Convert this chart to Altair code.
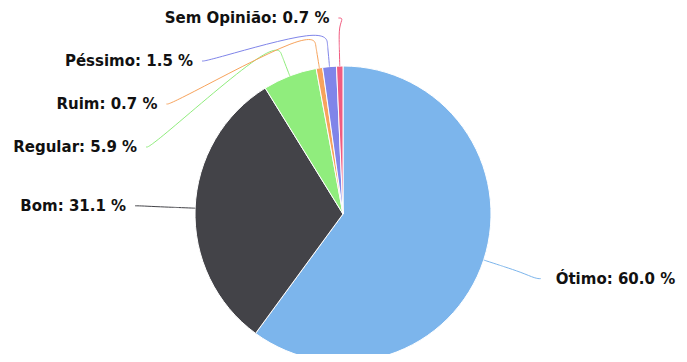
import math
import altair as alt
import pandas as pd

# ---- data ----
categories = ["Ótimo", "Bom", "Regular", "Ruim", "Péssimo", "Sem Opinião"]
percentages = [60.0, 31.1, 5.9, 0.7, 1.5, 0.7]
colors = ["#7cb5ec", "#434348", "#90ed7d", "#f7a35c", "#8085e9", "#f15c80"]

# ---- layout (view pixel space) ----
W, H = 671, 346
CX, CY = 335, 206          # pie centre
R = 148                    # pie radius
LABEL_DIST = 60            # label distance outside the pie
BREAK_DIST = 20            # connector break distance outside the pie
TOP = 10                   # top boundary for distributed labels
SPACING = 43               # minimum vertical spacing between labels

total = sum(percentages)
slices = []
cum = 0.0
for i, (c, p) in enumerate(zip(categories, percentages)):
    a0 = cum / total * 2 * math.pi
    cum += p
    a1 = cum / total * 2 * math.pi
    mid = (a0 + a1) / 2
    RL = R + LABEL_DIST
    slices.append({
        "idx": i, "category": c, "value": p,
        "label": f"{c}: {p:.1f} %",
        "mid": mid,
        "nx": CX + RL * math.sin(mid),
        "ny": CY - RL * math.cos(mid),
        "side": "left" if math.sin(mid) < 0 else "right",
    })


def get_x(y, side):
    RL = R + LABEL_DIST
    d = max(-1.0, min(1.0, (y - CY) / RL))
    off = math.cos(math.asin(d)) * RL
    return CX - off if side == "left" else CX + off


# distribute labels on each side
for side in ("left", "right"):
    group = sorted([s for s in slices if s["side"] == side], key=lambda s: s["ny"])
    prev = None
    for s in group:
        y = max(s["ny"], TOP) if prev is None else max(s["ny"], prev + SPACING)
        s["ly"] = y
        use_natural = (prev is None and y > s["ny"])
        s["lx"] = get_x(s["ny"] if use_natural else y, side)
        prev = y

pie_df = pd.DataFrame([{k: s[k] for k in ("idx", "category", "value")} for s in slices])
text_df = pd.DataFrame([{"category": s["category"], "label": s["label"], "x": s["lx"],
                         "y": s["ly"], "side": s["side"]} for s in slices])

# soft connectors: label -> (curve) -> break point -> slice edge
line_rows = []
for s in slices:
    m = s["mid"]
    lx, ly = s["lx"], s["ly"]
    bx, by = CX + (R + BREAK_DIST) * math.sin(m), CY - (R + BREAK_DIST) * math.cos(m)
    tx, ty = CX + R * math.sin(m), CY - R * math.cos(m)
    c1 = (lx + (5 if s["side"] == "left" else -5), ly)
    c2 = (2 * bx - tx, 2 * by - ty)
    pts = [(lx, ly), c1, c2, (bx, by), (bx, by), (bx, by), (tx, ty), (tx, ty)]
    for k, (x, y) in enumerate(pts):
        line_rows.append({"category": s["category"], "k": k, "x": x, "y": y})
line_df = pd.DataFrame(line_rows)

color_scale = alt.Scale(domain=categories, range=colors)
xs = alt.Scale(domain=[0, W], nice=False, zero=False)
ys = alt.Scale(domain=[H, 0], nice=False, zero=False)

arc = alt.Chart(pie_df).mark_arc(outerRadius=R, stroke="white", strokeWidth=1).encode(
    theta=alt.Theta("value:Q", stack=True),
    color=alt.Color("category:N", scale=color_scale, legend=None),
    order=alt.Order("idx:Q"),
    x=alt.value(CX),
    y=alt.value(CY),
)

lines = alt.Chart(line_df).mark_line(strokeWidth=1, interpolate="basis").encode(
    x=alt.X("x:Q", scale=xs, axis=None),
    y=alt.Y("y:Q", scale=ys, axis=None),
    detail="category:N",
    color=alt.Color("category:N", scale=color_scale, legend=None),
    order=alt.Order("k:Q"),
)

text_base = alt.Chart(text_df).encode(
    x=alt.X("x:Q", scale=xs, axis=None),
    y=alt.Y("y:Q", scale=ys, axis=None),
    text="label:N",
)
text_left = text_base.transform_filter(alt.datum.side == "left").mark_text(
    align="right", baseline="middle", dx=-9, font="DejaVu Sans", fontSize=15,
    fontWeight="bold", color="#111111")
text_right = text_base.transform_filter(alt.datum.side == "right").mark_text(
    align="left", baseline="middle", dx=15, font="DejaVu Sans", fontSize=15,
    fontWeight="bold", color="#111111")

chart = alt.layer(arc, lines, text_left, text_right).properties(
    width=W, height=H, autosize=alt.AutoSizeParams(type="none"), padding=0
).configure_view(stroke=None)

chart.save("out.html", embed_options={"renderer": "svg", "actions": False})
